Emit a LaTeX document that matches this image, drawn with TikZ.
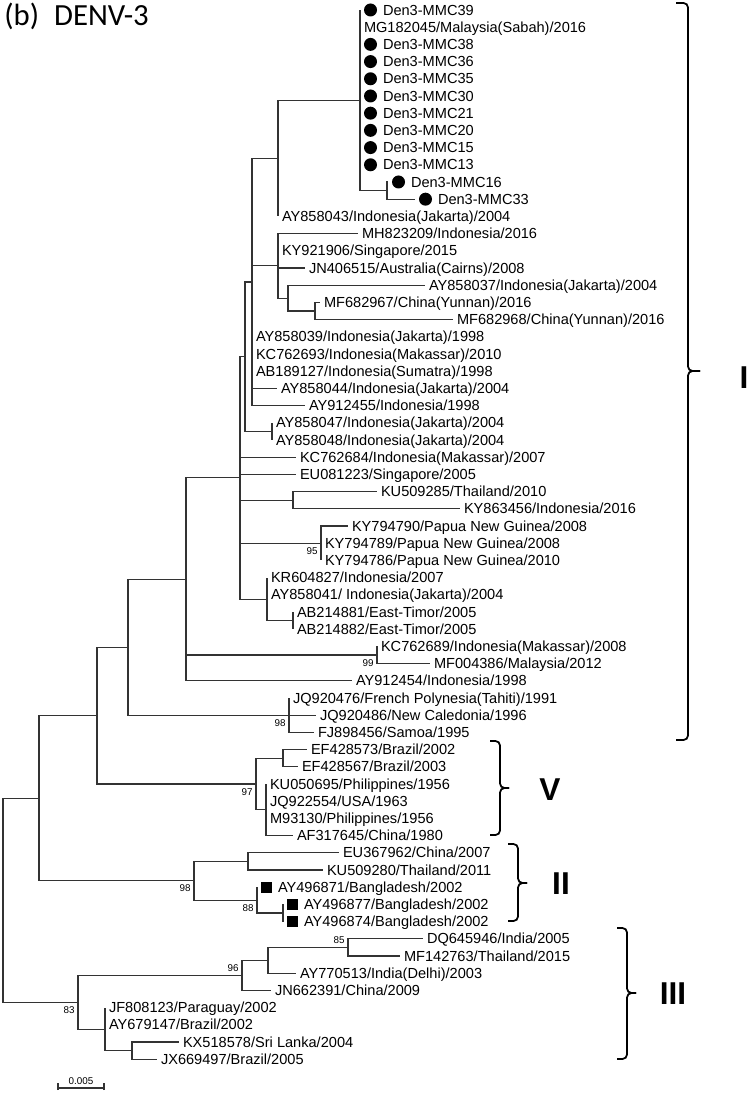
\documentclass[tikz,border=0pt]{standalone}
\usepackage{fontspec}
\setmainfont{Liberation Sans}
\newfontfamily\calibri{Carlito}
\usetikzlibrary{positioning,calc}

\tikzset{
    br/.style={line width=0.6pt, black!80},
    leaf/.style={anchor=west, inner xsep=0.08cm, inner ysep=0pt, outer sep=0pt,
        text height=5.9pt, text depth=0pt, font=\fontsize{8.3}{10}\selectfont},
    dot/.style={circle, fill=black, minimum size=0.26cm, inner sep=0pt, outer sep=0.08cm, anchor=west},
    sq/.style={rectangle, fill=black, minimum size=0.22cm, inner sep=0pt, outer sep=0.08cm, anchor=west},
    bs/.style={inner sep=0pt, font=\fontsize{5.6}{6}\selectfont},
    brk/.style={line width=1pt, rounded corners=0.09cm},
    clade/.style={inner sep=0pt, text height=12.9pt, text depth=0pt, font=\bfseries\fontsize{18}{20}\selectfont}
}

\begin{document}
\begin{tikzpicture}[x=0.02cm, y=-0.02cm]
    \useasboundingbox (0,0) rectangle (748,1097);

    % Title
    \node[anchor=base west, inner sep=0pt, font=\calibri\fontsize{17.5}{20}\selectfont] (title) at (4,26) {(b)\hspace{0.3cm}DENV-3};

    % Internal nodes
    \coordinate (root) at (3,900.2);
    \coordinate (nA) at (39,798.2);
    \coordinate (nB) at (97,715.6);
    \coordinate (nC) at (128,647.3);
    \coordinate (nD) at (186,579.35);
    \coordinate (nK) at (240,477.9);
    \coordinate (nJ) at (245,356.7);
    \coordinate (nJ2) at (252,282);
    \coordinate (nH) at (278,158.35);
    \coordinate (mA) at (360,100.3);
    \coordinate (mB) at (387,190.6);
    \coordinate (nE) at (278,265.85);
    \coordinate (nF) at (288,298.1);
    \coordinate (nG) at (315,311);
    \coordinate (nL) at (272,431.4);
    \coordinate (nN) at (293,500.2);
    \coordinate (nP) at (321,543.2);
    \coordinate (nQ) at (267,599.1);
    \coordinate (nR) at (293,620.6);
    \coordinate (nS) at (377,655);
    \coordinate (nPo) at (289,715.2);
    \coordinate (nV) at (256,784);
    \coordinate (nEF) at (283,758.2);
    \coordinate (nV2) at (266,809.8);
    \coordinate (nII) at (194,880.75);
    \coordinate (nII1) at (248,861.4);
    \coordinate (nBd) at (257,900.1);
    \coordinate (nBd2) at (283,913);
    \coordinate (nIII) at (78,1002.2);
    \coordinate (nT) at (242,975.35);
    \coordinate (nU) at (268,960.3);
    \coordinate (nW) at (348,947.4);
    \coordinate (nX) at (105,1029.1);
    \coordinate (nY) at (132,1050.6);

    % Malaysian isolates
    \node[dot] (d1) at (360,10) {};
    \node[leaf, right=-0.04cm of d1] (l1) {Den3-MMC39};
    \node[leaf] (l2) at (360,27.2) {MG182045/Malaysia(Sabah)/2016};
    \node[dot] (d3) at (360,44.4) {};
    \node[leaf, right=-0.04cm of d3] (l3) {Den3-MMC38};
    \node[dot] (d4) at (360,61.6) {};
    \node[leaf, right=-0.04cm of d4] (l4) {Den3-MMC36};
    \node[dot] (d5) at (360,78.8) {};
    \node[leaf, right=-0.04cm of d5] (l5) {Den3-MMC35};
    \node[dot] (d6) at (360,96) {};
    \node[leaf, right=-0.04cm of d6] (l6) {Den3-MMC30};
    \node[dot] (d7) at (360,113.2) {};
    \node[leaf, right=-0.04cm of d7] (l7) {Den3-MMC21};
    \node[dot] (d8) at (360,130.4) {};
    \node[leaf, right=-0.04cm of d8] (l8) {Den3-MMC20};
    \node[dot] (d9) at (360,147.6) {};
    \node[leaf, right=-0.04cm of d9] (l9) {Den3-MMC15};
    \node[dot] (d10) at (360,164.8) {};
    \node[leaf, right=-0.04cm of d10] (l10) {Den3-MMC13};
    \node[dot] (d11) at (388,182) {};
    \node[leaf, right=-0.04cm of d11] (l11) {Den3-MMC16};
    \node[dot] (d12) at (415,199.2) {};
    \node[leaf, right=-0.04cm of d12] (l12) {Den3-MMC33};

    % Genotype I references
    \node[leaf] (l13) at (278,216.4) {AY858043/Indonesia(Jakarta)/2004};
    \node[leaf] (l14) at (358,233.6) {MH823209/Indonesia/2016};
    \node[leaf] (l15) at (278,250.8) {KY921906/Singapore/2015};
    \node[leaf] (l16) at (305,268) {JN406515/Australia(Cairns)/2008};
    \node[leaf] (l17) at (425,285.2) {AY858037/Indonesia(Jakarta)/2004};
    \node[leaf] (l18) at (320,302.4) {MF682967/China(Yunnan)/2016};
    \node[leaf] (l19) at (453,319.6) {MF682968/China(Yunnan)/2016};
    \node[leaf] (l20) at (252,336.8) {AY858039/Indonesia(Jakarta)/1998};
    \node[leaf] (l21) at (252,354) {KC762693/Indonesia(Makassar)/2010};
    \node[leaf] (l22) at (252,371.2) {AB189127/Indonesia(Sumatra)/1998};
    \node[leaf] (l23) at (277,388.4) {AY858044/Indonesia(Jakarta)/2004};
    \node[leaf] (l24) at (305,405.6) {AY912455/Indonesia/1998};
    \node[leaf] (l25) at (272,422.8) {AY858047/Indonesia(Jakarta)/2004};
    \node[leaf] (l26) at (272,440) {AY858048/Indonesia(Jakarta)/2004};
    \node[leaf] (l27) at (296,457.2) {KC762684/Indonesia(Makassar)/2007};
    \node[leaf] (l28) at (296,474.4) {EU081223/Singapore/2005};
    \node[leaf] (l29) at (377,491.6) {KU509285/Thailand/2010};
    \node[leaf] (l30) at (460,508.8) {KY863456/Indonesia/2016};
    \node[leaf] (l31) at (348,526) {KY794790/Papua New Guinea/2008};
    \node[leaf] (l32) at (321,543.2) {KY794789/Papua New Guinea/2008};
    \node[leaf] (l33) at (321,560.4) {KY794786/Papua New Guinea/2010};
    \node[leaf] (l34) at (267,577.6) {KR604827/Indonesia/2007};
    \node[leaf] (l35) at (267,594.8) {AY858041/ Indonesia(Jakarta)/2004};
    \node[leaf] (l36) at (293,612) {AB214881/East-Timor/2005};
    \node[leaf] (l37) at (293,629.2) {AB214882/East-Timor/2005};
    \node[leaf] (l38) at (377,646.4) {KC762689/Indonesia(Makassar)/2008};
    \node[leaf] (l39) at (430,663.6) {MF004386/Malaysia/2012};
    \node[leaf] (l40) at (352,680.8) {AY912454/Indonesia/1998};
    \node[leaf] (l41) at (289,698) {JQ920476/French Polynesia(Tahiti)/1991};
    \node[leaf] (l42) at (316,715.2) {JQ920486/New Caledonia/1996};
    \node[leaf] (l43) at (314,732.4) {FJ898456/Samoa/1995};

    % Genotype V
    \node[leaf] (l44) at (307,749.6) {EF428573/Brazil/2002};
    \node[leaf] (l45) at (298,766.8) {EF428567/Brazil/2003};
    \node[leaf] (l46) at (266,784) {KU050695/Philippines/1956};
    \node[leaf] (l47) at (266,801.2) {JQ922554/USA/1963};
    \node[leaf] (l48) at (266,818.4) {M93130/Philippines/1956};
    \node[leaf] (l49) at (293,835.6) {AF317645/China/1980};

    % Genotype II
    \node[leaf] (l50) at (339,852.8) {EU367962/China/2007};
    \node[leaf] (l51) at (323,870) {KU509280/Thailand/2011};
    \node[sq] (s52) at (257,887.2) {};
    \node[leaf, right=-0.04cm of s52] (l52) {AY496871/Bangladesh/2002};
    \node[sq] (s53) at (283,904.4) {};
    \node[leaf, right=-0.04cm of s53] (l53) {AY496877/Bangladesh/2002};
    \node[sq] (s54) at (283,921.6) {};
    \node[leaf, right=-0.04cm of s54] (l54) {AY496874/Bangladesh/2002};

    % Genotype III
    \node[leaf] (l55) at (423,938.8) {DQ645946/India/2005};
    \node[leaf] (l56) at (400,956) {MF142763/Thailand/2015};
    \node[leaf] (l57) at (296,973.2) {AY770513/India(Delhi)/2003};
    \node[leaf] (l58) at (271,990.4) {JN662391/China/2009};
    \node[leaf] (l59) at (105,1007.6) {JF808123/Paraguay/2002};
    \node[leaf] (l60) at (105,1024.8) {AY679147/Brazil/2002};
    \node[leaf] (l61) at (179,1042) {KX518578/Sri Lanka/2004};
    \node[leaf] (l62) at (157,1059.2) {JX669497/Brazil/2005};

    % Branches
    \draw[br] (root) |- (nA) (root) |- (nIII);
    \draw[br] (nA) |- (nB) (nA) |- (nII);
    \draw[br] (nB) |- (nC) (nB) |- (nV);
    \draw[br] (nC) |- (nD) (nC) |- (nPo);
    \draw[br] (nD) |- (nK) (nD) |- (nS) (nD) |- (l40.west);
    \draw[br] (nK) |- (nJ) (nK) |- (l27.west) (nK) |- (l28.west) (nK) |- (nN) (nK) |- (nP) (nK) |- (nQ);
    \draw[br] (nJ) |- (nJ2) (nJ) |- (nL);
    \draw[br] (nJ2) |- (nH) (nJ2) |- (nE) (nJ2) |- (l20.west) (nJ2) |- (l21.west) (nJ2) |- (l22.west)
        (nJ2) |- (l23.west) (nJ2) |- (l24.west);
    \draw[br] (nH) |- (mA) (nH) |- (l13.west);
    \draw[br] (mA) |- (d1.west) (mA) |- (l2.west) (mA) |- (d3.west) (mA) |- (d4.west) (mA) |- (d5.west)
        (mA) |- (d6.west) (mA) |- (d7.west) (mA) |- (d8.west) (mA) |- (d9.west) (mA) |- (d10.west) (mA) |- (mB);
    \draw[br] (mB) |- (d11.west) (mB) |- (d12.west);
    \draw[br] (nE) |- (l14.west) (nE) |- (l15.west) (nE) |- (l16.west) (nE) |- (nF);
    \draw[br] (nF) |- (l17.west) (nF) |- (nG);
    \draw[br] (nG) |- (l18.west) (nG) |- (l19.west);
    \draw[br] (nL) |- (l25.west) (nL) |- (l26.west);
    \draw[br] (nN) |- (l29.west) (nN) |- (l30.west);
    \draw[br] (nP) |- (l31.west) (nP) |- (l32.west) (nP) |- (l33.west);
    \draw[br] (nQ) |- (l34.west) (nQ) |- (l35.west) (nQ) |- (nR);
    \draw[br] (nR) |- (l36.west) (nR) |- (l37.west);
    \draw[br] (nS) |- (l38.west) (nS) |- (l39.west);
    \draw[br] (nPo) |- (l41.west) (nPo) |- (l42.west) (nPo) |- (l43.west);
    \draw[br] (nV) |- (nEF) (nV) |- (nV2);
    \draw[br] (nEF) |- (l44.west) (nEF) |- (l45.west);
    \draw[br] (nV2) |- (l46.west) (nV2) |- (l47.west) (nV2) |- (l48.west) (nV2) |- (l49.west);
    \draw[br] (nII) |- (nII1) (nII) |- (nBd);
    \draw[br] (nII1) |- (l50.west) (nII1) |- (l51.west);
    \draw[br] (nBd) |- (s52.west) (nBd) |- (nBd2);
    \draw[br] (nBd2) |- (s53.west) (nBd2) |- (s54.west);
    \draw[br] (nIII) |- (nT) (nIII) |- (nX);
    \draw[br] (nT) |- (nU) (nT) |- (l58.west);
    \draw[br] (nU) |- (nW) (nU) |- (l57.west);
    \draw[br] (nW) |- (l55.west) (nW) |- (l56.west);
    \draw[br] (nX) |- (l59.west) (nX) |- (l60.west) (nX) |- (nY);
    \draw[br] (nY) |- (l61.west) (nY) |- (l62.west);

    % Bootstrap values
    \node[bs, anchor=north east] (b95) at ([shift={(-3,4)}]nP) {95};
    \node[bs, anchor=north east] (b99) at ([shift={(-3,4)}]nS) {99};
    \node[bs, anchor=north east] (b98a) at ([shift={(-3,4)}]nPo) {98};
    \node[bs, anchor=north east] (b97) at ([shift={(-3,4)}]nV) {97};
    \node[bs, anchor=north east] (b98b) at ([shift={(-3,4)}]nII) {98};
    \node[bs, anchor=north east] (b88) at ([shift={(-3,4)}]nBd) {88};
    \node[bs, anchor=south east] (b85) at ([shift={(-3,-3)}]nW) {85};
    \node[bs, anchor=south east] (b96) at ([shift={(-3,-3)}]nT) {96};
    \node[bs, anchor=north east] (b83) at ([shift={(-3,4)}]nIII) {83};

    % Scale bar
    \coordinate (sb1) at (58,1088);
    \coordinate (sb2) at (104,1088);
    \draw[br] (sb1) -- (sb2);
    \draw[br] ([yshift=-0.04cm]sb1) -- ([yshift=0.1cm]sb1);
    \draw[br] ([yshift=-0.04cm]sb2) -- ([yshift=0.1cm]sb2);
    \node[bs, above=0.06cm] (sbl) at ($(sb1)!0.5!(sb2)$) {0.005};

    % Genotype brackets
    \draw[brk] (676,3) -- (688,3) -- (688,371) -- (700,371);
    \draw[brk] (676,740) -- (688,740) -- (688,371) -- (700,371);
    \node[clade] (gI) at (744,377) {I};
    \draw[brk] (490,741) -- (500,741) -- (500,788) -- (509,788);
    \draw[brk] (490,835) -- (500,835) -- (500,788) -- (509,788);
    \node[clade] (gV) at (550,789) {V};
    \draw[brk] (508,844) -- (518,844) -- (518,883) -- (527,883);
    \draw[brk] (508,921) -- (518,921) -- (518,883) -- (527,883);
    \node[clade] (gII) at (561,883) {II};
    \draw[brk] (617,928) -- (627,928) -- (627,993) -- (636,993);
    \draw[brk] (617,1059) -- (627,1059) -- (627,993) -- (636,993);
    \node[clade] (gIII) at (673,993) {III};
\end{tikzpicture}
\end{document}
